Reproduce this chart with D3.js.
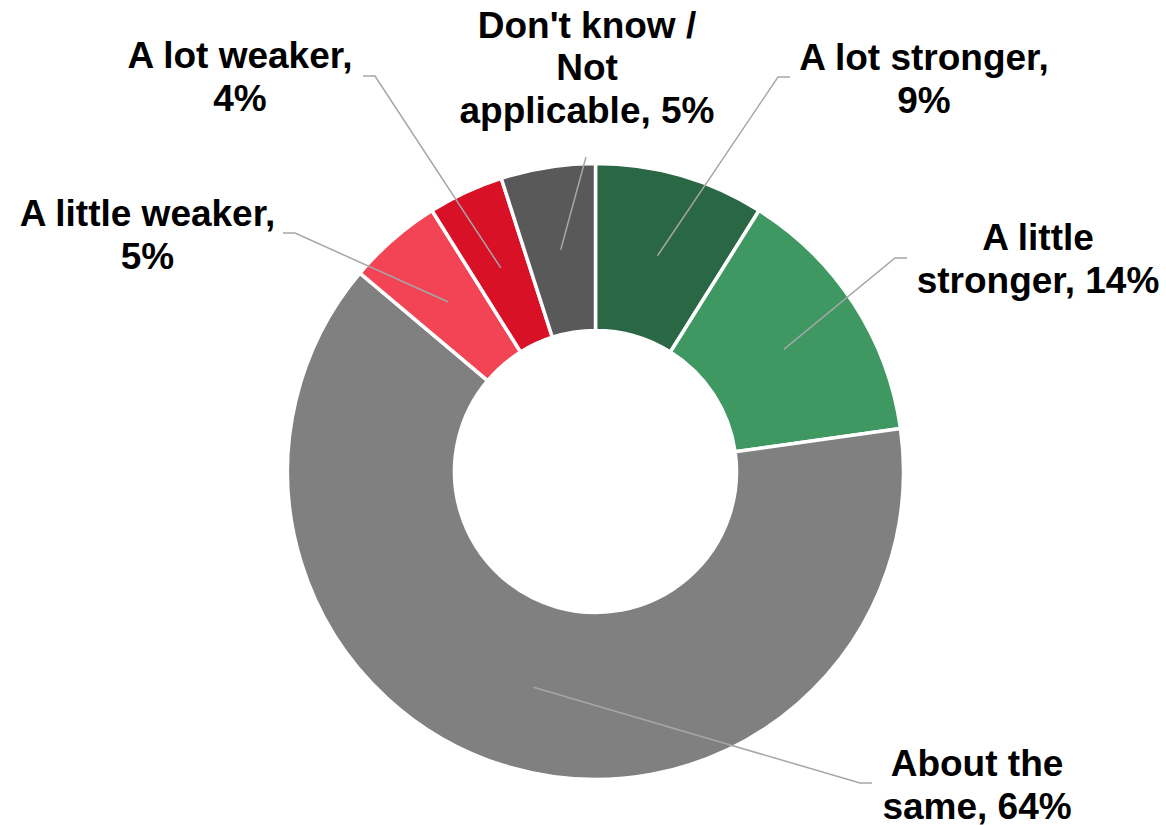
<!DOCTYPE html>
<html>
<head>
<meta charset="utf-8">
<script src="https://cdn.jsdelivr.net/npm/d3@7"></script>
<style>
  html, body { margin: 0; padding: 0; background: #fff; }
  svg { display: block; }
  text { font-family: "Liberation Sans", Arial, sans-serif; font-weight: bold; fill: #000; }
</style>
</head>
<body>
<svg id="chart" width="1166" height="825"></svg>
<script>
// ---- data ----
const categories = ["A lot stronger", "A little stronger", "About the same", "A little weaker", "A lot weaker", "Don't know / Not applicable"];
const values = [9, 14, 64, 5, 4, 5];
const labelLines = [
  ["A lot stronger,", "9%"],
  ["A little", "stronger, 14%"],
  ["About the", "same, 64%"],
  ["A little weaker,", "5%"],
  ["A lot weaker,", "4%"],
  ["Don't know /", "Not", "applicable, 5%"]
];
const colors = ["#2a6845", "#3f9862", "#808080", "#f24455", "#d81127", "#595959"];

// ---- layout (not data) ----
const cx = 595.5, cy = 471.5, rOuter = 308, rInner = 141;
const fontSize = 37, lineH = 42.5;
// label centre x, first baseline y, leader elbow [x0 (label side), x1, y]
const labelLayout = [
  { x: 924,   y: 70,   elbow: [790, 778, 77] },
  { x: 1038,  y: 250,  elbow: [907, 895, 258] },
  { x: 977,   y: 776,  elbow: [872, 860, 783] },
  { x: 147.5, y: 226,  elbow: [283, 295, 233] },
  { x: 240,   y: 68,   elbow: [363, 375, 76] },
  { x: 587,   y: 37.5, elbow: [586, 586, 157] }
];

const svg = d3.select("#chart");
const g = svg.append("g").attr("transform", `translate(${cx},${cy})`);

const pie = d3.pie().sort(null).value(d => d.value).startAngle(0).endAngle(2 * Math.PI);
const arcs = pie(categories.map((c, i) => ({ name: c, value: values[i], i })));
const arc = d3.arc().innerRadius(rInner).outerRadius(rOuter);

const color = d3.scaleOrdinal().domain(categories).range(colors);

g.selectAll("path.slice")
  .data(arcs)
  .join("path")
  .attr("class", "slice")
  .attr("d", arc)
  .attr("fill", d => color(d.data.name))
  .attr("stroke", "#fff")
  .attr("stroke-width", 3.5)
  .attr("stroke-linejoin", "miter");

// leader lines
const midArc = d3.arc().innerRadius(rInner).outerRadius(rOuter);
svg.append("g")
  .selectAll("polyline")
  .data(arcs)
  .join("polyline")
  .attr("fill", "none")
  .attr("stroke", "#a6a6a6")
  .attr("stroke-width", 1.5)
  .attr("points", d => {
    const L = labelLayout[d.data.i];
    const c = midArc.centroid(d);
    const pts = [[L.elbow[0], L.elbow[2]], [L.elbow[1], L.elbow[2]], [cx + c[0], cy + c[1]]];
    return pts.map(p => p.join(",")).join(" ");
  });

// labels
const labels = svg.append("g")
  .selectAll("text.label")
  .data(arcs)
  .join("text")
  .attr("class", "label")
  .attr("text-anchor", "middle")
  .attr("font-size", fontSize)
  .attr("x", d => labelLayout[d.data.i].x)
  .attr("y", d => labelLayout[d.data.i].y);

labels.selectAll("tspan")
  .data(d => labelLines[d.data.i].map((t, k) => ({ t, k, x: labelLayout[d.data.i].x, y: labelLayout[d.data.i].y })))
  .join("tspan")
  .attr("x", d => d.x)
  .attr("y", d => d.y + d.k * lineH)
  .text(d => d.t);
</script>
</body>
</html>
